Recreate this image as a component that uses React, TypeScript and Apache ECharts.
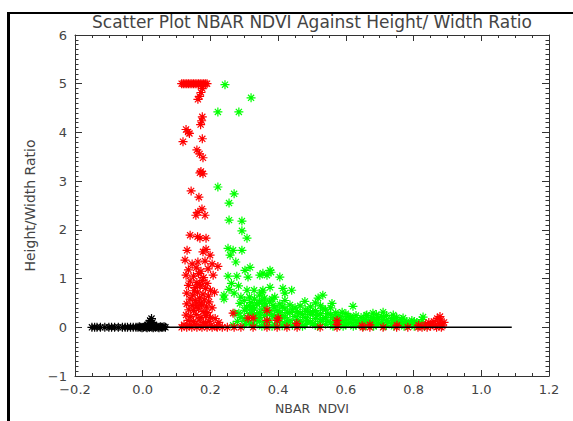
import React, { useEffect, useRef } from "react";
import * as echarts from "echarts";

const titleText = "Scatter Plot NBAR NDVI Against Height/ Width Ratio";
const xName = "NBAR  NDVI";
const yName = "Height/Width Ratio";

const blackPoints: number[][] = [
  [-0.150, 0], [-0.142, 0], [-0.135, 0], [-0.125, 0], [-0.112, 0], [-0.100, 0], [-0.092, 0],
  [-0.083, 0], [-0.072, 0], [-0.060, 0], [-0.052, 0], [-0.045, 0], [-0.036, 0], [-0.028, 0],
  [-0.020, 0], [-0.014, 0], [-0.010, 0.01], [-0.006, 0], [-0.002, -0.01], [0.002, 0],
  [0.006, 0.02], [0.010, 0], [0.013, -0.01], [0.017, 0.01], [0.020, 0], [0.024, 0.02],
  [0.027, 0], [0.031, -0.01], [0.034, 0.01], [0.038, 0], [0.041, 0.02], [0.045, 0],
  [0.048, -0.01], [0.052, 0.01], [0.055, 0], [0.059, 0], [0.063, 0.01], [0.067, 0],
  [0.018, 0.08], [0.022, 0.14], [0.026, 0.18], [0.015, 0.05], [0.029, 0.10],
];

const redPoints: number[][] = [
  [0.115, 5.0], [0.12, 5.0], [0.125, 5.0], [0.13, 5.0], [0.135, 5.0], [0.14, 5.0], [0.145, 5.0],
  [0.15, 5.0], [0.155, 5.0], [0.16, 5.0], [0.165, 5.0], [0.17, 5.0], [0.175, 5.0], [0.18, 5.0],
  [0.185, 5.0], [0.19, 5.0],
  [0.176, 4.9], [0.172, 4.82], [0.168, 4.74], [0.163, 4.68],
  [0.176, 4.32], [0.174, 4.24], [0.171, 4.16],
  [0.134, 4.01], [0.128, 4.06], [0.138, 3.98],
  [0.176, 3.87], [0.119, 3.81],
  [0.160, 3.64], [0.168, 3.56], [0.178, 3.48],
  [0.169, 3.17], [0.178, 3.15], [0.172, 3.2],
  [0.143, 2.8], [0.166, 2.67],
  [0.175, 2.43], [0.163, 2.36], [0.184, 2.3], [0.157, 2.3],
  [0.14, 1.89], [0.169, 1.83], [0.187, 1.83], [0.162, 1.86],
  [0.131, 1.58], [0.187, 1.6], [0.199, 1.48], [0.178, 1.55],
  [0.125, 1.38], [0.146, 1.3], [0.163, 1.34], [0.184, 1.36], [0.205, 1.3], [0.222, 1.25],
  [0.135, 1.18], [0.158, 1.22], [0.172, 1.15], [0.193, 1.2],
  [0.128, 1.07], [0.15, 1.05], [0.165, 1.1], [0.18, 1.02], [0.208, 1.07],
  [0.14, 0.95], [0.16, 0.92], [0.176, 0.96], [0.19, 0.9], [0.168, 0.88],
  [0.135, 0.86], [0.155, 0.82], [0.17, 0.85], [0.185, 0.8], [0.2, 0.76], [0.212, 0.72],
  [0.13, 0.7], [0.148, 0.66], [0.162, 0.72], [0.178, 0.68], [0.194, 0.64], [0.152, 0.75],
  [0.14, 0.58], [0.155, 0.55], [0.168, 0.6], [0.182, 0.56], [0.196, 0.52], [0.172, 0.5],
  [0.13, 0.48], [0.146, 0.45], [0.16, 0.5], [0.174, 0.46], [0.188, 0.42], [0.205, 0.4],
  [0.136, 0.36], [0.15, 0.34], [0.165, 0.38], [0.178, 0.32], [0.192, 0.3], [0.158, 0.42],
  [0.128, 0.25], [0.142, 0.22], [0.158, 0.26], [0.172, 0.2], [0.186, 0.24], [0.2, 0.2], [0.214, 0.18],
  [0.134, 0.14], [0.15, 0.12], [0.166, 0.15], [0.18, 0.1], [0.196, 0.12], [0.225, 0.1],
  [0.122, 0.05], [0.138, 0.04], [0.154, 0.06], [0.17, 0.03], [0.186, 0.05], [0.202, 0.04], [0.218, 0.02],
  [0.115, 0], [0.13, 0], [0.145, 0], [0.16, 0], [0.175, 0], [0.19, 0], [0.205, 0], [0.22, 0],
  [0.235, 0], [0.25, 0], [0.27, 0], [0.29, 0], [0.326, 0], [0.367, 0], [0.397, 0], [0.426, 0],
  [0.456, 0], [0.524, 0], [0.574, 0], [0.65, 0], [0.671, 0], [0.71, 0], [0.75, 0], [0.783, 0], [0.813, 0],
  [0.267, 0.29], [0.311, 0.19], [0.326, 0.19], [0.367, 0.35], [0.367, 0.14], [0.4, 0.19],
  [0.397, 0.14], [0.455, 0.08], [0.574, 0.14], [0.574, 0.06], [0.648, 0.03], [0.671, 0.05],
  [0.751, 0.04], [0.815, 0.04], [0.825, 0.0],
  [0.835, 0.05], [0.845, 0.1], [0.85, 0.02], [0.86, 0.12], [0.865, 0.04], [0.87, 0.18],
  [0.875, 0.08], [0.88, 0.15], [0.885, 0.03], [0.89, 0.1], [0.84, 0.0], [0.855, 0.06],
  [0.878, 0.22], [0.868, 0.0], [0.882, 0.0],
];

const greenPoints: number[][] = [
  [0.243, 4.98], [0.32, 4.71], [0.222, 4.42], [0.284, 4.42], [0.222, 2.88], [0.27, 2.74],
  [0.255, 2.55], [0.255, 2.2], [0.293, 2.18], [0.293, 1.98], [0.308, 1.83], [0.252, 1.62],
  [0.267, 1.58], [0.293, 1.58], [0.258, 1.48], [0.275, 1.34], [0.317, 1.23], [0.302, 1.17],
  [0.252, 1.05], [0.278, 1.05], [0.311, 1.03], [0.346, 1.07], [0.367, 1.07], [0.379, 1.13],
  [0.376, 1.17], [0.355, 1.11], [0.405, 1.03], [0.308, 0.76], [0.329, 0.76], [0.352, 0.72],
  [0.24, 0.66], [0.24, 0.58], [0.287, 0.49], [0.32, 0.51], [0.326, 0.41], [0.361, 0.49],
  [0.284, 0.29], [0.322, 0.29], [0.385, 0.45], [0.355, 0.76], [0.376, 0.82], [0.414, 0.8],
  [0.44, 0.76], [0.42, 0.7], [0.479, 0.53], [0.518, 0.6], [0.532, 0.66], [0.559, 0.49],
  [0.621, 0.43], [0.589, 0.31], [0.612, 0.21], [0.662, 0.25], [0.68, 0.29], [0.71, 0.31],
  [0.74, 0.25], [0.769, 0.19], [0.828, 0.21],
  [0.262, 0.9], [0.283, 0.85], [0.27, 0.7], [0.29, 0.62], [0.255, 0.78],
  [0.267, 0.04], [0.28, 0.12], [0.29, 0.2], [0.272, 0.29], [0.337, 0.14], [0.346, 0.2],
  [0.3, 0.05], [0.3, 0.18], [0.3, 0.35], [0.3, 0.55],
  [0.315, 0.1], [0.315, 0.28], [0.315, 0.45], [0.315, 0.62],
  [0.33, 0.04], [0.33, 0.2], [0.33, 0.38], [0.33, 0.58],
  [0.345, 0.12], [0.345, 0.3], [0.345, 0.5], [0.345, 0.66],
  [0.36, 0.06], [0.36, 0.24], [0.36, 0.42], [0.36, 0.6],
  [0.375, 0.15], [0.375, 0.33], [0.375, 0.52],
  [0.39, 0.05], [0.39, 0.22], [0.39, 0.4], [0.39, 0.62],
  [0.405, 0.12], [0.405, 0.3], [0.405, 0.48],
  [0.42, 0.06], [0.42, 0.2], [0.42, 0.38], [0.42, 0.55],
  [0.435, 0.14], [0.435, 0.3], [0.435, 0.46],
  [0.45, 0.05], [0.45, 0.22], [0.45, 0.4],
  [0.465, 0.12], [0.465, 0.28], [0.465, 0.44],
  [0.48, 0.06], [0.48, 0.2], [0.48, 0.36],
  [0.495, 0.1], [0.495, 0.26], [0.495, 0.42],
  [0.51, 0.04], [0.51, 0.18], [0.51, 0.34], [0.51, 0.5],
  [0.525, 0.12], [0.525, 0.28], [0.525, 0.44],
  [0.54, 0.06], [0.54, 0.2], [0.54, 0.36],
  [0.555, 0.1], [0.555, 0.26], [0.555, 0.4],
  [0.57, 0.04], [0.57, 0.16], [0.57, 0.3],
  [0.585, 0.1], [0.585, 0.22],
  [0.6, 0.05], [0.6, 0.16], [0.6, 0.28],
  [0.615, 0.1], [0.615, 0.2],
  [0.63, 0.04], [0.63, 0.14], [0.63, 0.24],
  [0.645, 0.08], [0.645, 0.2],
  [0.66, 0.04], [0.66, 0.14], [0.66, 0.24],
  [0.675, 0.1], [0.675, 0.2],
  [0.69, 0.05], [0.69, 0.15], [0.69, 0.26],
  [0.705, 0.1], [0.705, 0.22],
  [0.72, 0.04], [0.72, 0.14], [0.72, 0.24],
  [0.735, 0.08], [0.735, 0.18],
  [0.75, 0.04], [0.75, 0.12], [0.75, 0.2],
  [0.765, 0.08], [0.765, 0.16],
  [0.78, 0.04], [0.78, 0.12],
  [0.795, 0.08], [0.795, 0.14],
  [0.81, 0.04], [0.81, 0.1],
  [0.825, 0.06], [0.825, 0.16],
  [0.307, 0.12], [0.307, 0.4], [0.322, 0.05], [0.322, 0.36], [0.337, 0.26], [0.337, 0.48],
  [0.352, 0.02], [0.352, 0.36], [0.352, 0.55], [0.367, 0.1], [0.367, 0.3], [0.382, 0.02],
  [0.382, 0.26], [0.382, 0.58], [0.397, 0.15], [0.397, 0.34], [0.412, 0.03], [0.412, 0.24],
  [0.412, 0.42], [0.427, 0.1], [0.427, 0.3], [0.442, 0.04], [0.442, 0.36], [0.457, 0.16],
  [0.457, 0.32], [0.472, 0.02], [0.472, 0.26], [0.487, 0.14], [0.487, 0.32], [0.502, 0.08],
  [0.502, 0.3], [0.517, 0.02], [0.517, 0.24], [0.532, 0.16], [0.532, 0.38], [0.547, 0.12],
  [0.547, 0.28], [0.562, 0.02], [0.562, 0.2], [0.577, 0.1], [0.577, 0.24], [0.592, 0.02],
  [0.592, 0.14], [0.607, 0.08], [0.607, 0.22], [0.622, 0.02], [0.622, 0.16], [0.637, 0.1],
  [0.652, 0.02], [0.652, 0.14], [0.667, 0.08], [0.682, 0.02], [0.682, 0.16], [0.697, 0.08],
  [0.697, 0.2], [0.712, 0.02], [0.712, 0.16], [0.727, 0.1], [0.742, 0.02], [0.742, 0.14],
  [0.757, 0.08], [0.772, 0.02], [0.772, 0.1], [0.787, 0.06], [0.802, 0.02], [0.802, 0.12],
  [0.817, 0.08], [0.832, 0.02],
];

const zeroLine: number[][] = [[-0.015, 0], [1.09, 0]];

const asterisk = "path://M5 0L5 10M0 5L10 5M1.6 1.6L8.4 8.4M1.6 8.4L8.4 1.6";

const fmtX = (v: number) => v.toFixed(1).replace("-", "\u2212");
const fmtY = (v: number) => String(Math.round(v)).replace("-", "\u2212");

const FONT = "DejaVu Sans";
const AXIS_COLOR = "#333";
const TEXT_COLOR = "#444";

function starSeries(name: string, data: number[][], color: string, z: number) {
  return {
    name,
    type: "scatter",
    data,
    symbol: asterisk,
    symbolSize: 9,
    z,
    itemStyle: { color: "transparent", borderColor: color, borderWidth: 1.2, opacity: 1 },
    emphasis: { disabled: true },
  };
}

export default function App() {
  const ref = useRef<HTMLDivElement>(null);
  useEffect(() => {
    if (!ref.current) return;
    const chart = echarts.init(ref.current, undefined, { renderer: "svg" });
    const xCommon = {
      type: "value",
      min: -0.2,
      max: 1.2,
      interval: 0.2,
      splitLine: { show: false },
      axisLine: { show: true, onZero: false, lineStyle: { color: AXIS_COLOR, width: 1 } },
      axisTick: { show: true, inside: true, length: 6, lineStyle: { color: AXIS_COLOR } },
      minorTick: { show: true, splitNumber: 4, length: 3, lineStyle: { color: AXIS_COLOR } },
      minorSplitLine: { show: false },
    };
    const yCommon = {
      type: "value",
      min: -1,
      max: 6,
      interval: 1,
      splitLine: { show: false },
      axisLine: { show: true, onZero: false, lineStyle: { color: AXIS_COLOR, width: 1 } },
      axisTick: { show: true, inside: true, length: 7, lineStyle: { color: AXIS_COLOR } },
      minorTick: { show: true, splitNumber: 10, length: 3.5, lineStyle: { color: AXIS_COLOR } },
      minorSplitLine: { show: false },
    };
    chart.setOption({
      animation: false,
      backgroundColor: "#ffffff",
      title: {
        text: titleText,
        left: 307,
        top: 8,
        textAlign: "center",
        textStyle: { fontFamily: FONT, fontSize: 17, fontWeight: "normal", color: TEXT_COLOR },
      },
      grid: { left: 75, right: 24, top: 35, bottom: 45, outerBoundsMode: "none", containLabel: false },
      xAxis: [
        {
          ...xCommon,
          position: "bottom",
          name: xName,
          nameLocation: "middle",
          nameGap: 26,
          nameTextStyle: { fontFamily: FONT, fontSize: 12.5, color: TEXT_COLOR },
          axisLabel: { show: true, margin: 7, formatter: fmtX, fontFamily: FONT, fontSize: 13, color: TEXT_COLOR },
        },
        { ...xCommon, position: "top", axisLabel: { show: false } },
      ],
      yAxis: [
        {
          ...yCommon,
          position: "left",
          name: yName,
          nameLocation: "middle",
          nameGap: 28,
          nameTextStyle: { fontFamily: FONT, fontSize: 14, color: TEXT_COLOR },
          axisLabel: { show: true, margin: 8, formatter: fmtY, fontFamily: FONT, fontSize: 13, color: TEXT_COLOR },
        },
        { ...yCommon, position: "right", axisLabel: { show: false } },
      ],
      graphic: [
        { type: "rect", left: 7, top: 12, shape: { width: 3, height: 409 }, style: { fill: "#000" }, z: 100 },
        { type: "rect", left: 7, top: 12, shape: { width: 566, height: 2 }, style: { fill: "#000" }, z: 100 },
      ],
      series: [
        starSeries("green", greenPoints, "#00ff00", 2),
        starSeries("red", redPoints, "#ff0000", 3),
        starSeries("black", blackPoints, "#000000", 4),
        {
          name: "zero",
          type: "line",
          data: zeroLine,
          symbol: "none",
          z: 5,
          lineStyle: { color: "#000", width: 1.5 },
          emphasis: { disabled: true },
        },
      ],
    });
    return () => chart.dispose();
  }, []);
  return (
    <div
      ref={ref}
      style={{ position: "fixed", left: 0, top: 0, width: 573, height: 421 }}
    />
  );
}
